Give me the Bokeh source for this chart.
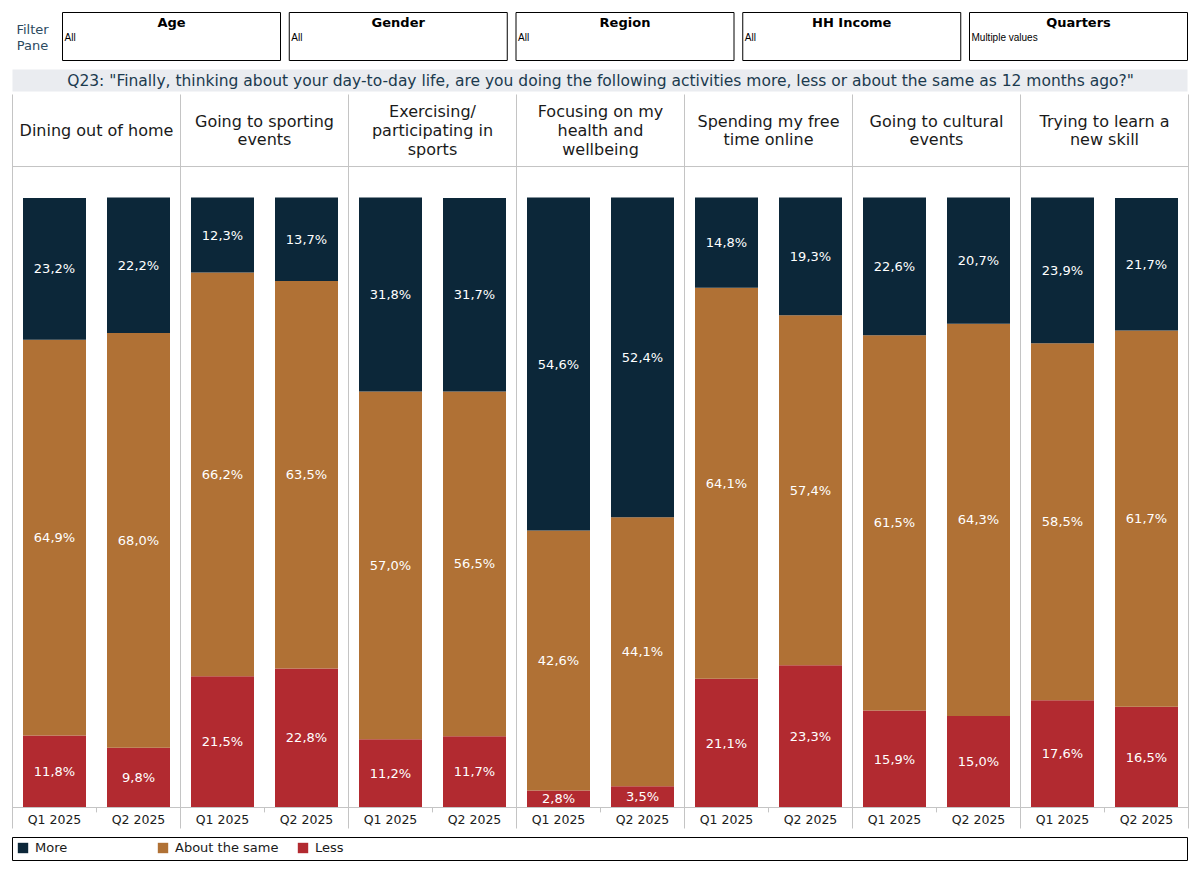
from bokeh.plotting import figure
from bokeh.models import Range1d, FactorRange, ColumnDataSource, Legend, LegendItem
from bokeh.transform import dodge
from bokeh.layouts import column
from bokeh.embed import file_html
from bokeh.resources import INLINE
from bokeh.core.properties import value

# ---------------- data ----------------
activities = [
    "Dining out of home",
    "Going to sporting\nevents",
    "Exercising/\nparticipating in\nsports",
    "Focusing on my\nhealth and\nwellbeing",
    "Spending my free\ntime online",
    "Going to cultural\nevents",
    "Trying to learn a\nnew skill",
]
quarters = ["Q1 2025", "Q2 2025"]
series = ["More", "About the same", "Less"]
more = [23.2, 22.2, 12.3, 13.7, 31.8, 31.7, 54.6, 52.4, 14.8, 19.3, 22.6, 20.7, 23.9, 21.7]
same = [64.9, 68.0, 66.2, 63.5, 57.0, 56.5, 42.6, 44.1, 64.1, 57.4, 61.5, 64.3, 58.5, 61.7]
less = [11.8, 9.8, 21.5, 22.8, 11.2, 11.7, 2.8, 3.5, 21.1, 23.3, 15.9, 15.0, 17.6, 16.5]
filter_names = ["Age", "Gender", "Region", "HH Income", "Quarters"]
filter_values = ["All", "All", "All", "All", "Multiple values"]
title_text = 'Q23: "Finally, thinking about your day-to-day life, are you doing the following activities more, less or about the same as 12 months ago?"'

C_MORE = "#0c2739"
C_SAME = "#b07135"
C_LESS = "#b22a30"
colors = [C_MORE, C_SAME, C_LESS]
GRID = "#c4c4c4"
FONT = "DejaVu Sans"

W = 1195
FL, FR = 10, 1190  # frame left / right (screen px), shared by all stacked figures

def fmt(v):
    return f"{v:.1f}%".replace(".", ",")

# ---------------- top: filter pane + title ----------------
top = figure(width=W, height=93, x_range=Range1d(FL, FR), y_range=Range1d(93, 0),
             output_backend="svg", toolbar_location=None,
             x_axis_location=None, y_axis_location=None,
             min_border_left=FL, min_border_right=W - FR, min_border_top=0, min_border_bottom=0,
             outline_line_color=None)
top.grid.visible = False

top.text(x=[32, 32], y=[29, 45], text=["Filter", "Pane"], text_align="center",
         text_baseline="middle", text_font=value(FONT), text_font_size="13px",
         text_color="#2c4a5f")

step = 226.75
lefts = [62 + i * step for i in range(len(filter_names))]
rights = [l + 218 for l in lefts]
fsrc = ColumnDataSource(dict(l=lefts, r=rights, c=[(l + r) / 2 for l, r in zip(lefts, rights)],
                             vx=[l + 2 for l in lefts], name=filter_names, val=filter_values))
top.quad(left="l", right="r", top=12, bottom=60, source=fsrc, fill_color=None,
         line_color="black", line_width=1)
top.text(x="c", y=22, text="name", source=fsrc, text_align="center", text_baseline="middle",
         text_font=value(FONT), text_font_size="13px", text_font_style="bold", text_color="black")
top.text(x="vx", y=37, text="val", source=fsrc, text_align="left", text_baseline="middle",
         text_font=value("Liberation Sans"), text_font_size="10px", text_color="black")

top.quad(left=12, right=1187, top=69, bottom=91, fill_color="#eaecf0", line_color=None)
top.text(x=[600], y=[80], text=[title_text], text_align="center", text_baseline="middle",
         text_font=value(FONT), text_font_size="15.5px", text_color="#1b3a4e")

# ---------------- main chart ----------------
keys = [f"{i}|{q}" for i in range(len(activities)) for q in quarters]
qlabels = [q for _ in activities for q in quarters]

p = figure(width=W, height=738,
           x_range=FactorRange(*keys, range_padding=2 / 84, range_padding_units="absolute"),
           y_range=Range1d(-3.934, 117.05),
           output_backend="svg", toolbar_location=None,
           x_axis_location=None, y_axis_location=None,
           min_border_left=FL, min_border_right=W - FR, min_border_top=0, min_border_bottom=0,
           outline_line_color=None)
p.grid.visible = False

src = ColumnDataSource(dict(x=keys, More=more, Same=same, Less=less, q=qlabels))
p.vbar_stack(["Less", "Same", "More"], x="x", width=0.75, source=src,
             color=[C_LESS, C_SAME, C_MORE], line_color=None)

ly, lt = [], []
xs = []
for k, m, s, l in zip(keys, more, same, less):
    xs += [k, k, k]
    ly += [l / 2, l + s / 2, l + s + m / 2]
    lt += [fmt(l), fmt(s), fmt(m)]
lsrc = ColumnDataSource(dict(x=xs, y=ly, t=lt))
p.text(x="x", y="y", text="t", source=lsrc, text_align="center", text_baseline="middle",
       text_font=value(FONT), text_font_size="13px", text_color="white")

# panel separators, header labels, mid ticks
q1 = keys[0::2]
hsrc = ColumnDataSource(dict(q1=q1, lab=activities))
p.segment(x0=dodge("q1", -0.5, range=p.x_range), x1=dodge("q1", -0.5, range=p.x_range),
          y0=116.89, y1=-3.44, source=hsrc, line_color=GRID, line_width=1)
p.segment(x0=dodge("x", 0.5, range=p.x_range), x1=dodge("x", 0.5, range=p.x_range),
          y0=116.89, y1=-3.44, source=ColumnDataSource(dict(x=[keys[-1]])),
          line_color=GRID, line_width=1)
p.segment(x0=dodge("q1", 0.5, range=p.x_range), x1=dodge("q1", 0.5, range=p.x_range),
          y0=0, y1=-0.8, source=hsrc, line_color=GRID, line_width=1)
edge = ColumnDataSource(dict(a=[keys[0], keys[0]], b=[keys[-1], keys[-1]], y=[105.08, 0]))
p.segment(x0=dodge("a", -0.5, range=p.x_range), x1=dodge("b", 0.5, range=p.x_range),
          y0="y", y1="y", source=edge, line_color=GRID, line_width=1)

p.text(x=dodge("q1", 0.5, range=p.x_range), y=110.98, text="lab", source=hsrc,
       text_align="center", text_baseline="middle", text_line_height=0.98,
       text_font=value(FONT), text_font_size="16px", text_color="#1a1a1a")

p.text(x="x", y=-1.97, text="q", source=src, text_align="center", text_baseline="middle",
       text_font=value(FONT), text_font_size="12.5px", text_color="#1a1a1a")

# ---------------- legend ----------------
leg = figure(width=W, height=33, x_range=Range1d(FL, FR), y_range=Range1d(864, 831),
             output_backend="svg", toolbar_location=None,
             x_axis_location=None, y_axis_location=None,
             min_border_left=FL, min_border_right=W - FR, min_border_top=0, min_border_bottom=0,
             outline_line_color=None)
leg.grid.visible = False
leg.quad(left=12, right=1187, top=837, bottom=860, fill_color=None, line_color="black", line_width=1)
items = []
for name, c in zip(series, colors):
    r = leg.rect(x="x", y="y", width=1, height=1,
                 source=ColumnDataSource(dict(x=[-1000], y=[-1000])),
                 fill_color=c, line_color=None)
    items.append(LegendItem(label=name, renderers=[r]))
legend = Legend(items=items, orientation="horizontal", location=(16 - FL, 9),
                glyph_width=13, glyph_height=13, label_standoff=6, spacing=0,
                label_width=121, label_height=13, padding=0, margin=0,
                border_line_color=None, background_fill_alpha=0,
                label_text_font=FONT, label_text_font_size="13px", label_text_color="#1a1a1a",
                label_text_baseline="middle")
leg.add_layout(legend)

layout = column(top, p, leg, spacing=0)
open("out.html", "w").write(file_html(layout, INLINE))
